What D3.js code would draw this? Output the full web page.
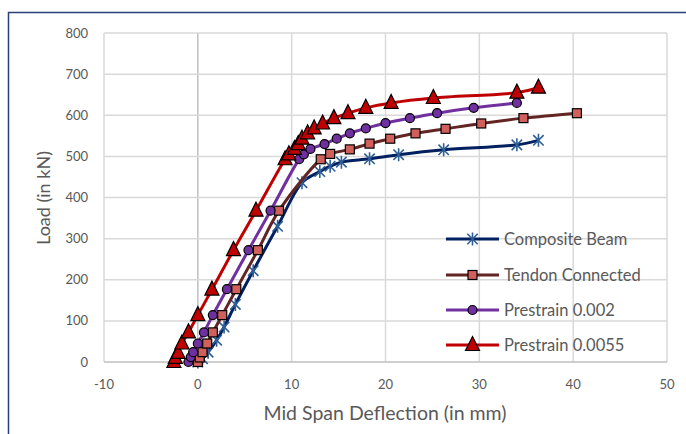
<!DOCTYPE html>
<html>
<head lang="en">
    <meta charset="UTF-8">
    <title>Load vs Mid Span Deflection</title>
    <script src="https://cdnjs.cloudflare.com/ajax/libs/d3/7.8.5/d3.min.js" charset="utf-8"></script>
</head>
<body style="margin: 0; background: white">
<div id="chart"></div>
<script>

// values (deflection in mm, load in kN)
var compositeX = [0, 0.5, 1.1, 2.0, 2.8, 4.0, 5.9, 8.5, 11.1, 13.0, 14.1, 15.3, 18.3, 21.4, 26.2, 34.0, 36.3];
var compositeY = [0, 8, 24, 53, 85, 140, 222, 330, 436, 463, 476, 486, 494, 504, 516, 528, 539];

var tendonX = [0, 0.2, 0.5, 1.0, 1.6, 2.6, 4.1, 6.4, 8.65, 13.1, 14.1, 16.2, 18.3, 20.5, 23.2, 26.4, 30.2, 34.7, 40.4];
var tendonY = [0, 11, 24, 45, 72, 114, 177, 272, 368, 493, 506, 517, 531, 543, 556, 567, 580, 593, 605];

var pre002X = [-1.0, -0.75, -0.5, 0, 0.65, 1.6, 3.1, 5.4, 7.75, 10.8, 11.3, 12.0, 13.5, 14.8, 16.2, 17.9, 20.0, 22.6, 25.5, 29.4, 34.0];
var pre002Y = [0, 12, 24, 45, 72, 114, 177, 272, 368, 493, 505, 518, 530, 543, 556, 568, 581, 593, 605, 618, 630];

var pre0055X = [-2.55, -2.4, -2.1, -1.7, -1.0, 0, 1.5, 3.8, 6.2, 9.3, 9.7, 10.3, 10.7, 11.1, 11.7, 12.4, 13.3, 14.5, 16.0, 17.9, 20.6, 25.1, 34.0, 36.3];
var pre0055Y = [0, 10, 22, 45, 72, 114, 176, 272, 368, 493, 505, 518, 530, 543, 556, 568, 580, 593, 605, 618, 630, 642, 655, 667];

var seriesNames = ['Composite Beam', 'Tendon Connected', 'Prestrain 0.002', 'Prestrain 0.0055'];
var xTicks = [-10, 0, 10, 20, 30, 40, 50];
var yTicks = [0, 100, 200, 300, 400, 500, 600, 700, 800];

var series = [
    {name: seriesNames[0], xs: compositeX, ys: compositeY, line: '#002060', marker: 'star', fill: 'none', stroke: '#2f5f95'},
    {name: seriesNames[1], xs: tendonX, ys: tendonY, line: '#632523', marker: 'square', fill: '#d0605c', stroke: '#000'},
    {name: seriesNames[2], xs: pre002X, ys: pre002Y, line: '#7030a0', marker: 'circle', fill: '#7030a0', stroke: '#000'},
    {name: seriesNames[3], xs: pre0055X, ys: pre0055Y, line: '#c00000', marker: 'triangle', fill: '#c00000', stroke: '#000'}
];

var width = 686, height = 434;
var margin = {top: 33, bottom: 72, left: 104, right: 19};
var font = 'Lato, "Open Sans", sans-serif';
var textColor = '#595959';

var svg = d3.select('#chart').append('svg')
    .attr('width', width)
    .attr('height', height)
    .style('display', 'block');

// chart frame (only its top and left edges fall inside the picture)
svg.append('rect')
    .attr('x', 8.5).attr('y', 12.5)
    .attr('width', 720).attr('height', 460)
    .attr('fill', 'white')
    .attr('stroke', '#2b3f7d')
    .attr('stroke-width', 1.5);

var x = d3.scaleLinear().domain([-10, 50]).range([margin.left, width - margin.right]);
var y = d3.scaleLinear().domain([0, 800]).range([height - margin.bottom, margin.top]);

// gridlines
svg.append('g').selectAll('line.v').data(xTicks).enter().append('line')
    .attr('x1', function(d){ return x(d); }).attr('x2', function(d){ return x(d); })
    .attr('y1', y(0)).attr('y2', y(800))
    .attr('stroke', function(d){ return d === 0 ? '#bfbfbf' : '#d9d9d9'; })
    .attr('stroke-width', 1.5);

svg.append('g').selectAll('line.h').data(yTicks).enter().append('line')
    .attr('x1', x(-10)).attr('x2', x(50))
    .attr('y1', function(d){ return y(d); }).attr('y2', function(d){ return y(d); })
    .attr('stroke', function(d){ return d === 0 ? '#bfbfbf' : '#d9d9d9'; })
    .attr('stroke-width', 1.5);

// tick labels
svg.append('g').selectAll('text').data(yTicks).enter().append('text')
    .attr('x', x(-10) - 16)
    .attr('y', function(d){ return y(d); })
    .attr('dy', '0.35em')
    .attr('text-anchor', 'end')
    .style('font', '13px ' + font)
    .attr('fill', textColor)
    .text(function(d){ return d; });

svg.append('g').selectAll('text').data(xTicks).enter().append('text')
    .attr('x', function(d){ return x(d); })
    .attr('y', y(0) + 22)
    .attr('dy', '0.35em')
    .attr('text-anchor', 'middle')
    .style('font', '13px ' + font)
    .attr('fill', textColor)
    .text(function(d){ return d; });

// axis titles
svg.append('text')
    .attr('transform', 'translate(44,' + 198 + ') rotate(-90)')
    .attr('text-anchor', 'middle')
    .attr('dy', '0.35em')
    .style('font', '18px ' + font)
    .attr('fill', textColor)
    .text('Load (in kN)');

svg.append('text')
    .attr('x', 385).attr('y', 413)
    .attr('text-anchor', 'middle')
    .attr('dy', '0.35em')
    .style('font', '19.5px ' + font)
    .attr('fill', textColor)
    .text('Mid Span Deflection (in mm)');

function drawMarker(g, s, cx, cy) {
    if (s.marker === 'star') {
        var r = 6.5;
        var p = 'M' + (cx - r * 0.8) + ',' + (cy - r * 0.8) + 'L' + (cx + r * 0.8) + ',' + (cy + r * 0.8) +
                'M' + (cx - r * 0.8) + ',' + (cy + r * 0.8) + 'L' + (cx + r * 0.8) + ',' + (cy - r * 0.8) +
                'M' + cx + ',' + (cy - r) + 'L' + cx + ',' + (cy + r);
        g.append('path').attr('d', p).attr('stroke', s.stroke).attr('stroke-width', 1.6).attr('fill', 'none');
    } else if (s.marker === 'square') {
        g.append('rect').attr('x', cx - 4.5).attr('y', cy - 4.5).attr('width', 9).attr('height', 9)
            .attr('fill', s.fill).attr('stroke', s.stroke).attr('stroke-width', 1.2);
    } else if (s.marker === 'circle') {
        g.append('circle').attr('cx', cx).attr('cy', cy).attr('r', 4.5)
            .attr('fill', s.fill).attr('stroke', s.stroke).attr('stroke-width', 1.2);
    } else {
        var h = 7;
        g.append('path')
            .attr('d', 'M' + cx + ',' + (cy - h - 1.5) + 'L' + (cx + h) + ',' + (cy + h - 1.5) + 'L' + (cx - h) + ',' + (cy + h - 1.5) + 'Z')
            .attr('fill', s.fill).attr('stroke', s.stroke).attr('stroke-width', 1.2);
    }
}

var line = d3.line()
    .x(function(d){ return x(d[0]); })
    .y(function(d){ return y(d[1]); })
    .curve(d3.curveCatmullRom.alpha(0.5));

series.forEach(function(s){
    var pts = s.xs.map(function(v, i){ return [v, s.ys[i]]; });
    var g = svg.append('g');
    g.append('path')
        .attr('d', line(pts))
        .attr('fill', 'none')
        .attr('stroke', s.line)
        .attr('stroke-width', 3);
    pts.forEach(function(p){ drawMarker(g, s, x(p[0]), y(p[1])); });
});

// legend
var legendY = [239, 275, 310, 345];
series.forEach(function(s, i){
    var g = svg.append('g');
    g.append('line')
        .attr('x1', 446).attr('x2', 499)
        .attr('y1', legendY[i]).attr('y2', legendY[i])
        .attr('stroke', s.line).attr('stroke-width', 3);
    drawMarker(g, s, 472.5, legendY[i]);
    g.append('text')
        .attr('x', 504).attr('y', legendY[i])
        .attr('dy', '0.35em')
        .style('font', '16.5px ' + font)
        .attr('fill', textColor)
        .text(s.name);
});

</script>
</body>
</html>
